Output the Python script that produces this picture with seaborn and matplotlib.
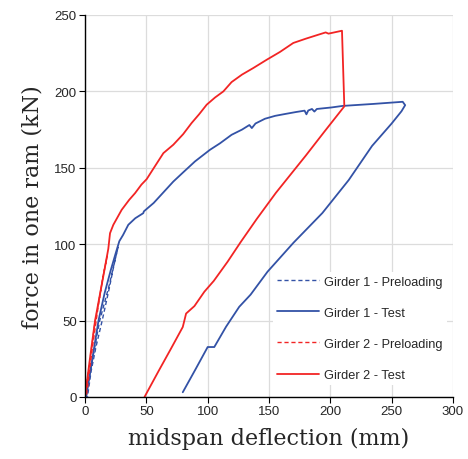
import matplotlib
matplotlib.use("Agg")
import matplotlib.pyplot as plt
import seaborn as sns

# deflection (mm) / force (kN)
g1_pre_x = [0, 4, 8, 12, 16, 20, 24, 27, 26, 23, 20, 14, 9, 5, 2]
g1_pre_y = [0, 15, 33, 50, 62, 74, 88, 98, 95, 84, 72, 50, 33, 17, 0]

g1_test_x = [1, 6, 11, 16, 21, 25, 28, 31, 35.3, 41, 47.5, 48, 56, 64, 72, 80, 89.7,
             101.9, 110, 119.5, 128, 134, 136, 139, 146.7, 155, 163, 172, 179, 180.5,
             182, 185, 187, 189, 201, 210, 235, 259, 261, 258, 250, 234, 215, 193.5,
             170, 148.8, 135, 125.7, 115, 105.4, 100, 90, 79.7]
g1_test_y = [0, 25, 50, 68, 83, 94, 102, 106, 112.7, 117, 120.3, 121.5, 127, 134, 141,
             147, 154.2, 161.8, 166, 171.6, 175, 178, 176, 179, 182.1, 184, 185.2, 186.5,
             187.4, 185, 187.5, 188.5, 186.8, 188.5, 189.5, 190.5, 191.8, 193.2, 191, 187,
             179, 164.3, 142, 120.4, 101, 82, 67, 59, 46, 32.7, 32.7, 18, 3.1]

g2_pre_x = [0, 4, 8, 12, 15, 18, 17, 14, 10, 6, 1]
g2_pre_y = [0, 24, 48, 66, 80, 92, 88, 76, 55, 32, 0]

g2_test_x = [0, 4, 8.2, 14, 19, 20.4, 23.1, 29.9, 36, 40.8, 46, 50.3, 57, 63.9, 72, 80,
             86.9, 93, 99.2, 106, 112.8, 119.5, 128, 137.2, 148.1, 158.9, 169.8, 180,
             190.2, 196.2, 198.5, 209.5, 211.4, 195, 180, 167, 155.6, 140, 127, 116.3, 105,
             97.3, 89.2, 82.4, 81, 79.7, 70, 60, 48.5]
g2_test_y = [0, 25, 50, 75, 97, 107.2, 112.7, 122.5, 129, 133.4, 139, 142.6, 151, 159.6,
             165.1, 172, 179.3, 185, 191.3, 196, 200, 206.1, 211, 215.3, 220.7, 225.8,
             231.7, 234.5, 237.1, 238.6, 237.8, 239.7, 190.2, 173.5, 158, 145, 133.6, 116.5,
             101.5, 88.6, 76, 68.9, 59.5, 54.6, 50, 45.8, 31.5, 17, 0]

blue = "#3352a6"
red = "#f22424"

sns.set_style("whitegrid", {"grid.color": "#dcdcdc", "axes.edgecolor": "black"})
plt.rcParams['font.family'] = ['Liberation Sans', 'DejaVu Sans']

fig = plt.figure(figsize=(4.68, 4.60), dpi=100)
ax = fig.add_axes([85 / 468, 62 / 460, 368 / 468, 382 / 460])

sns.lineplot(x=g1_pre_x, y=g1_pre_y, sort=False, estimator=None, ax=ax, color=blue,
             lw=1.0, linestyle=(0, (3, 2)), label="Girder 1 - Preloading")
sns.lineplot(x=g1_test_x, y=g1_test_y, sort=False, estimator=None, ax=ax, color=blue,
             lw=1.3, label="Girder 1 - Test")
sns.lineplot(x=g2_pre_x, y=g2_pre_y, sort=False, estimator=None, ax=ax, color=red,
             lw=1.0, linestyle=(0, (3, 2)), label="Girder 2 - Preloading")
sns.lineplot(x=g2_test_x, y=g2_test_y, sort=False, estimator=None, ax=ax, color=red,
             lw=1.3, label="Girder 2 - Test")

ax.set_xlim(0, 300)
ax.set_ylim(0, 250)
ax.set_xticks(range(0, 301, 50))
ax.set_yticks(range(0, 251, 50))
ax.grid(True, lw=0.9)
for s in ["top", "right"]:
    ax.spines[s].set_visible(False)
for s in ["left", "bottom"]:
    ax.spines[s].set_linewidth(1.0)
    ax.spines[s].set_color("black")
ax.tick_params(axis="both", direction="out", length=4, width=0.8, color="black",
               labelsize=9.5, pad=2, left=True, bottom=True)

ax.set_xlabel("midspan deflection (mm)", family=["DejaVu Serif"], fontsize=16, labelpad=7)
ax.set_ylabel("force in one ram (kN)", family=["DejaVu Serif"], fontsize=16, labelpad=8)

leg = ax.legend(loc="lower right", bbox_to_anchor=(1.0, 0.015), fontsize=9.2,
                frameon=True, facecolor="white", edgecolor="white", framealpha=1,
                labelspacing=1.5, handlelength=3.3, handletextpad=0.4, borderpad=0.3)
leg.get_frame().set_linewidth(0)

fig.savefig("out.png", dpi=100)
